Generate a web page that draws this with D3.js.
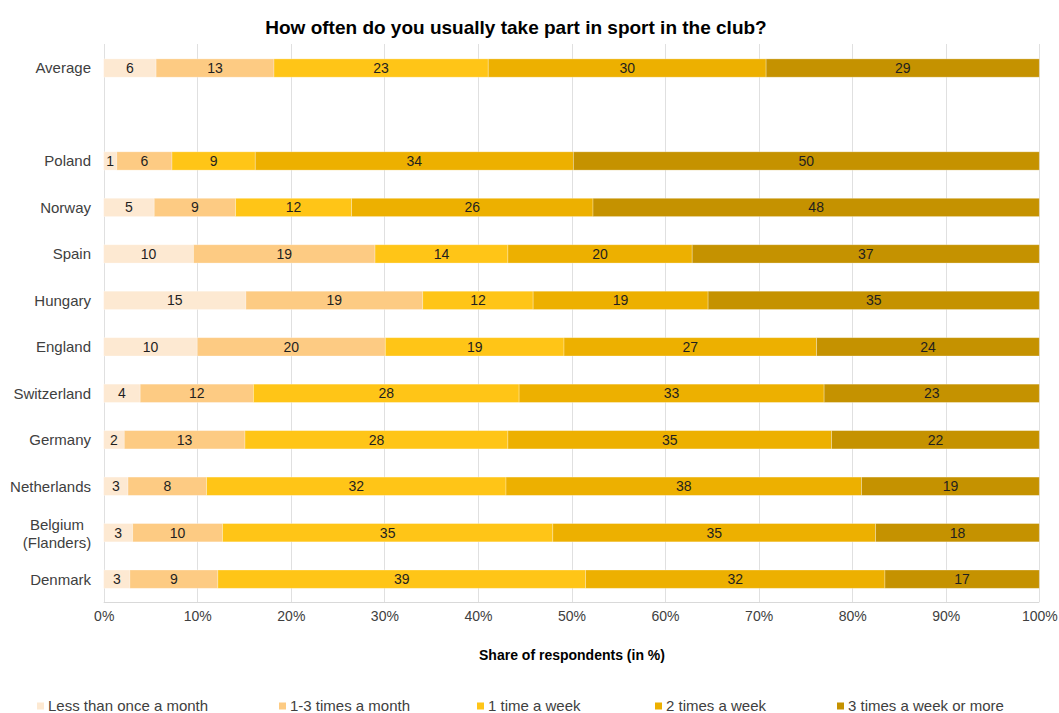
<!DOCTYPE html>
<html>
<head>
<meta charset="utf-8">
<script src="https://cdn.jsdelivr.net/npm/d3@7"></script>
<style>
  html, body { margin: 0; padding: 0; background: #fff; }
  svg { display: block; font-family: "Liberation Sans", Arial, sans-serif; }
</style>
</head>
<body>
<svg id="chart" width="1059" height="713"></svg>
<script>
// ---- Data ----
const title = "How often do you usually take part in sport in the club?";
const xAxisTitle = "Share of respondents (in %)";
const categories = ["Average", "", "Poland", "Norway", "Spain", "Hungary", "England",
  "Switzerland", "Germany", "Netherlands", "Belgium (Flanders)", "Denmark"];
const seriesNames = ["Less than once a month", "1-3 times a month", "1 time a week",
  "2 times a week", "3 times a week or more"];
const lessThanMonthly = [5.6, null, 1.4, 5.4, 9.6, 15.2, 10.0, 3.9, 2.2, 2.6, 3.1, 2.8];
const oneToThreeMonthly = [12.6, null, 5.9, 8.7, 19.4, 18.9, 20.1, 12.1, 12.9, 8.4, 9.6, 9.4];
const oncePerWeek = [22.9, null, 8.9, 12.4, 14.2, 11.8, 19.1, 28.4, 28.1, 32.0, 35.3, 39.3];
const twicePerWeek = [29.7, null, 34.0, 25.8, 19.7, 18.7, 27.0, 32.6, 34.6, 38.0, 34.5, 32.0];
const threePlusPerWeek = [29.2, null, 49.8, 47.7, 37.1, 35.4, 23.8, 23.0, 22.2, 19.0, 17.5, 16.5];
const xTicks = [0, 10, 20, 30, 40, 50, 60, 70, 80, 90, 100];
const colors = ["#FDE9D2", "#FDCB83", "#FFC517", "#EDB000", "#C59200"];

// ---- Build ----
const seriesValues = [lessThanMonthly, oneToThreeMonthly, oncePerWeek, twicePerWeek, threePlusPerWeek];
const keys = categories.map((c, i) => c === "" ? "__gap" + i : c);
const rows = keys.map((k, i) => {
  const r = { key: k, label: categories[i] };
  seriesNames.forEach((s, j) => r[s] = seriesValues[j][i] == null ? 0 : seriesValues[j][i]);
  r.empty = seriesValues[0][i] == null;
  return r;
});

const svg = d3.select("#chart");
const x = d3.scaleLinear().domain([0, 100]).range([103.7, 1039.3]);
const y = d3.scaleBand().domain(keys).range([44.8, 602.4]).paddingInner(0.606).paddingOuter(0.303);

// gridlines
svg.append("g").selectAll("line").data(xTicks).join("line")
  .attr("x1", d => Math.round(x(d)) + 0.5).attr("x2", d => Math.round(x(d)) + 0.5)
  .attr("y1", 44).attr("y2", 602)
  .attr("stroke", "#e0e0e0").attr("stroke-width", 1);
svg.append("line").attr("x1", x(0)).attr("x2", x(100))
  .attr("y1", 602.5).attr("y2", 602.5).attr("stroke", "#d9d9d9");

// x axis labels
const xAxis = d3.axisBottom(x).tickValues(xTicks).tickFormat(d => d + "%").tickSize(0).tickPadding(0);
const gx = svg.append("g").attr("transform", "translate(0,611)").call(xAxis);
gx.select(".domain").remove();
gx.selectAll("text").attr("font-size", 14).attr("fill", "#404040")
  .attr("font-family", "Liberation Sans, Arial, sans-serif");

// stacks
const stack = d3.stack().keys(seriesNames);
const stacked = stack(rows);
const layers = svg.append("g").selectAll("g").data(stacked).join("g")
  .attr("fill", (d, i) => colors[i]);
layers.selectAll("rect").data(d => d.filter(p => !p.data.empty)).join("rect")
  .attr("x", d => x(d[0]))
  .attr("width", d => Math.max(0, x(d[1]) - x(d[0])))
  .attr("y", d => y(d.data.key))
  .attr("height", y.bandwidth())
  .attr("stroke", "#ffffff").attr("stroke-opacity", 0.35).attr("stroke-width", 0.8);

// value labels
const labelG = svg.append("g");
stacked.forEach((layer, li) => {
  labelG.append("g").selectAll("text").data(layer.filter(p => !p.data.empty)).join("text")
    .attr("x", d => (x(d[0]) + x(d[1])) / 2)
    .attr("y", d => y(d.data.key) + y.bandwidth() / 2)
    .attr("dy", "0.36em")
    .attr("text-anchor", "middle")
    .attr("font-size", 14)
    .attr("fill", "#1f1f1f")
    .text(d => Math.round(d[1] - d[0]));
});

// category labels
const catG = svg.append("g");
rows.filter(r => !r.empty).forEach(r => {
  const cy = y(r.key) + y.bandwidth() / 2;
  const m = r.label.match(/^(\S+)\s+(\(.*\))$/);
  if (m) {
    const t = catG.append("text").attr("text-anchor", "middle").attr("font-size", 15).attr("fill", "#404040");
    t.append("tspan").attr("x", 57).attr("y", cy - 8).attr("dy", "0.36em").text(m[1]);
    t.append("tspan").attr("x", 57).attr("y", cy + 9.5).attr("dy", "0.36em").text(m[2]);
  } else {
    catG.append("text").attr("x", 91).attr("y", cy).attr("dy", "0.36em")
      .attr("text-anchor", "end").attr("font-size", 15).attr("fill", "#404040").text(r.label);
  }
});

// title
svg.append("text").attr("x", 516).attr("y", 27).attr("dy", "0.35em").attr("text-anchor", "middle")
  .attr("font-size", 19).attr("font-weight", "bold").attr("fill", "#000").text(title);

// axis title
svg.append("text").attr("x", 572).attr("y", 655).attr("dy", "0.35em").attr("text-anchor", "middle")
  .attr("font-size", 14).attr("font-weight", "bold").attr("fill", "#000").text(xAxisTitle);

// legend
const legendX = [37, 279, 477, 655, 837];
const lg = svg.append("g").selectAll("g").data(seriesNames).join("g")
  .attr("transform", (d, i) => `translate(${legendX[i]},706)`);
lg.append("rect").attr("x", 0).attr("y", -3.5).attr("width", 7).attr("height", 7)
  .attr("fill", (d, i) => colors[i]);
lg.append("text").attr("x", 11).attr("y", 0).attr("dy", "0.36em")
  .attr("font-size", 15).attr("fill", "#404040").text(d => d);
</script>
</body>
</html>
